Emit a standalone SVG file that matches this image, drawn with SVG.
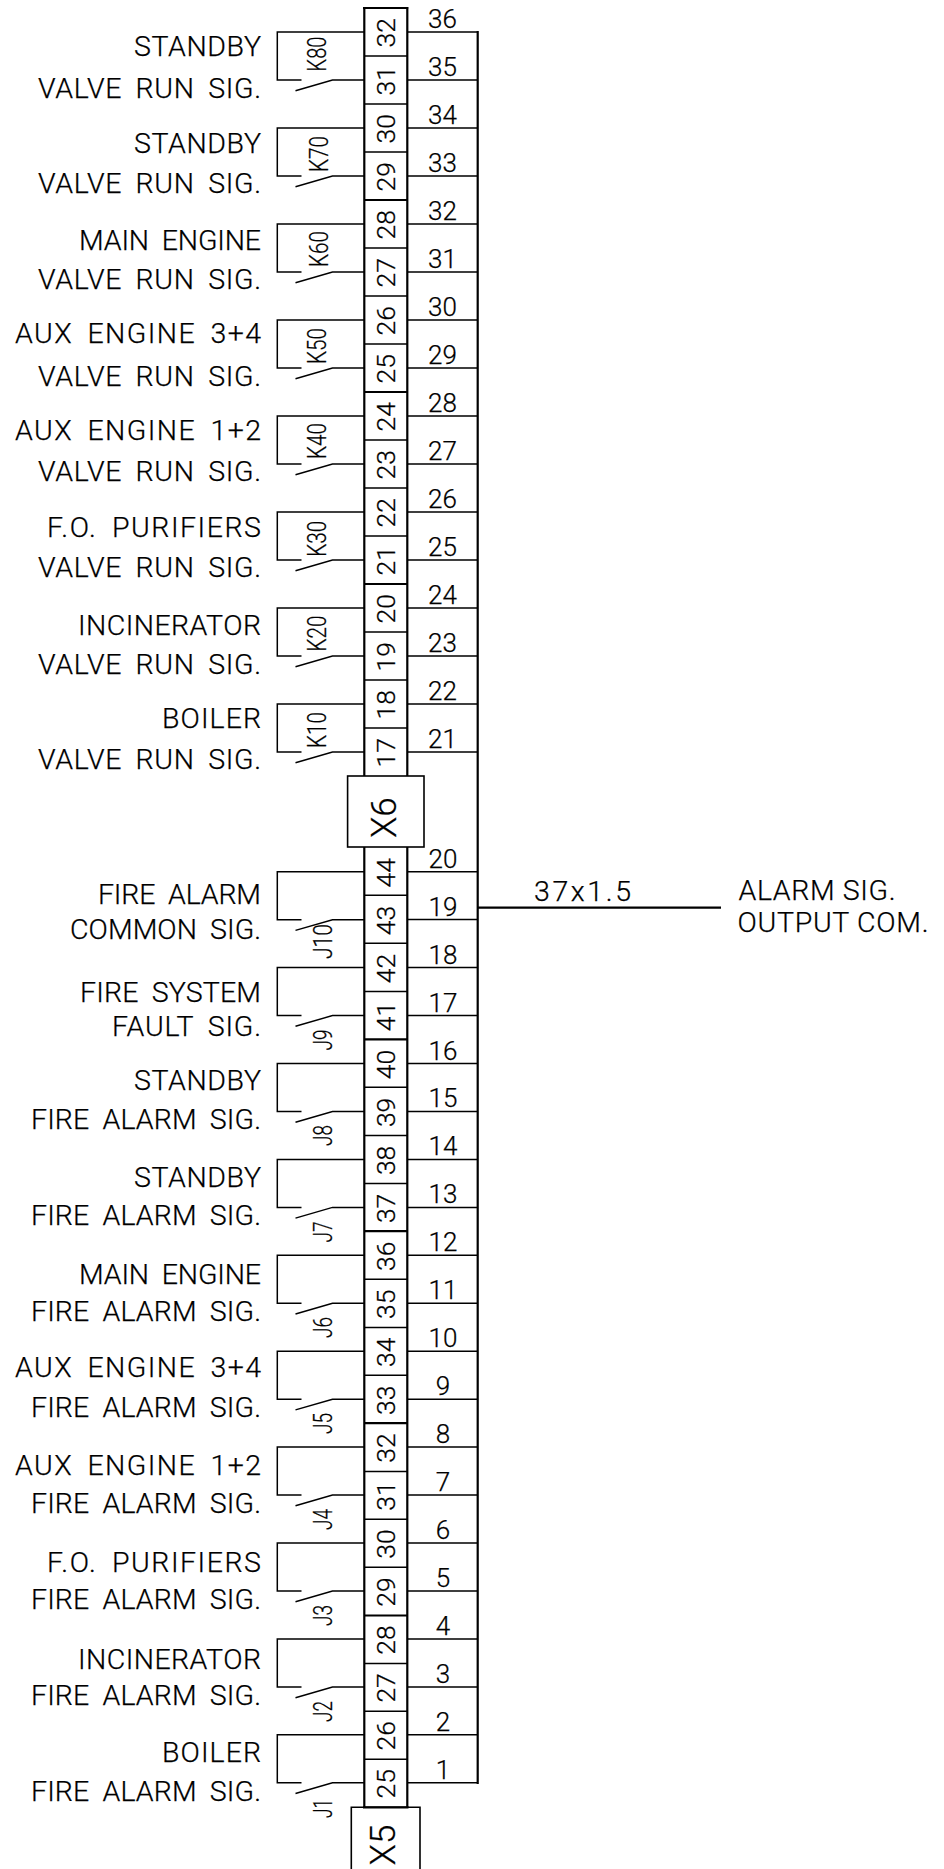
<svg xmlns="http://www.w3.org/2000/svg" xmlns:xlink="http://www.w3.org/1999/xlink" width="944" height="1869" viewBox="0 0 944 1869">
<style>
text{font-family:Roboto,"Liberation Sans",sans-serif;font-weight:300;fill:#000;stroke:#000;stroke-width:.25}
.l{font-size:28.5px;text-anchor:end;word-spacing:6px}
.t{font-size:26.5px;text-anchor:middle}
.n{font-size:26px;text-anchor:middle}
.r{font-size:25.5px;text-anchor:middle}
.x{font-size:35px;text-anchor:middle}
.o{font-size:28.5px}
.w,.c{fill:none;stroke:#000;stroke-width:1.5}
.b{fill:none;stroke:#000;stroke-width:2.2}
.box{fill:#fff;stroke:#000;stroke-width:1.6}
</style>
<defs>
<path id="contact" class="c" d="M364.5 0H277.3V48H301.5M295.5 58.7L332.5 48H364.5"/>
</defs>
<rect width="944" height="1869" fill="#fff"/>
<g id="connectors">
<path class="w" d="M407 32H478M407 80H478M407 128H478M407 176H478M407 224H478M407 272H478M407 320H478M407 368H478M407 416H478M407 464H478M407 512H478M407 560H478M407 608H478M407 656H478M407 704H478M407 752H478M407 871.7H478M407 919.6H478M407 967.6H478M407 1015.5H478M407 1063.5H478M407 1111.4H478M407 1159.4H478M407 1207.4H478M407 1255.3H478M407 1303.3H478M407 1351.2H478M407 1399.2H478M407 1447.1H478M407 1495H478M407 1543H478M407 1591H478M407 1639H478M407 1686.9H478M407 1734.8H478M407 1782.8H478"/>
<path class="b" d="M477.7 31V1784M478 907.7H721"/>
</g>
<g id="wire-numbers">
<text class="n" x="442.5" y="28">36</text><text class="n" x="442.5" y="76">35</text><text class="n" x="442.5" y="124">34</text><text class="n" x="442.5" y="172">33</text><text class="n" x="442.5" y="220">32</text><text class="n" x="442.5" y="268">31</text><text class="n" x="442.5" y="316">30</text><text class="n" x="442.5" y="364">29</text><text class="n" x="442.5" y="412">28</text><text class="n" x="442.5" y="460">27</text><text class="n" x="442.5" y="508">26</text><text class="n" x="442.5" y="556">25</text><text class="n" x="442.5" y="604">24</text><text class="n" x="442.5" y="652">23</text><text class="n" x="442.5" y="700">22</text><text class="n" x="442.5" y="748">21</text>
<text class="n" x="443" y="867.7">20</text><text class="n" x="443" y="915.6">19</text><text class="n" x="443" y="963.6">18</text><text class="n" x="443" y="1011.5">17</text><text class="n" x="443" y="1059.5">16</text><text class="n" x="443" y="1107.4">15</text><text class="n" x="443" y="1155.4">14</text><text class="n" x="443" y="1203.4">13</text><text class="n" x="443" y="1251.3">12</text><text class="n" x="443" y="1299.3">11</text><text class="n" x="443" y="1347.2">10</text><text class="n" x="443" y="1395.2">9</text><text class="n" x="443" y="1443.1">8</text><text class="n" x="443" y="1491">7</text><text class="n" x="443" y="1539">6</text><text class="n" x="443" y="1587">5</text><text class="n" x="443" y="1635">4</text><text class="n" x="443" y="1682.9">3</text><text class="n" x="443" y="1730.8">2</text><text class="n" x="443" y="1778.8">1</text>
</g>
<g id="strip-X6">
<path class="b" d="M364.3 8V776M407.3 8V776M363 8H408.5"/>
<path class="w" d="M364 56H408M364 104H408M364 152H408M364 248H408M364 296H408M364 344H408M364 440H408M364 488H408M364 536H408M364 632H408M364 680H408M364 728H408"/>
<path class="b" d="M364 200H408M364 392H408M364 584H408"/>
<text class="t" transform="translate(395 32.7) rotate(-90)">32</text><text class="t" transform="translate(395 80.7) rotate(-90)">31</text><text class="t" transform="translate(395 128.7) rotate(-90)">30</text><text class="t" transform="translate(395 176.7) rotate(-90)">29</text><text class="t" transform="translate(395 224.7) rotate(-90)">28</text><text class="t" transform="translate(395 272.7) rotate(-90)">27</text><text class="t" transform="translate(395 320.7) rotate(-90)">26</text><text class="t" transform="translate(395 368.7) rotate(-90)">25</text><text class="t" transform="translate(395 416.7) rotate(-90)">24</text><text class="t" transform="translate(395 464.7) rotate(-90)">23</text><text class="t" transform="translate(395 512.7) rotate(-90)">22</text><text class="t" transform="translate(395 560.7) rotate(-90)">21</text><text class="t" transform="translate(395 608.7) rotate(-90)">20</text><text class="t" transform="translate(395 656.7) rotate(-90)">19</text><text class="t" transform="translate(395 704.7) rotate(-90)">18</text><text class="t" transform="translate(395 752.7) rotate(-90)">17</text>
<rect class="box" x="347.6" y="776" width="76.4" height="71"/>
<text class="x" transform="translate(395.5 817.7) rotate(-90)">X6</text>
</g>
<g id="strip-X5">
<path class="b" d="M364.3 847V1807M407.3 847V1807"/>
<path class="w" d="M364 895.3H408M364 943.3H408M364 991.5H408M364 1087.3H408M364 1135.5H408M364 1183.5H408M364 1279.3H408M364 1327.5H408M364 1375.3H408M364 1471.5H408M364 1519.3H408M364 1567.3H408M364 1663.5H408M364 1711.3H408M364 1759.3H408"/>
<path class="b" d="M364 1039.3H408M364 1231.2H408M364 1423.2H408M364 1615.5H408"/>
<text class="t" transform="translate(395 872.7) rotate(-90)">44</text><text class="t" transform="translate(395 920.6) rotate(-90)">43</text><text class="t" transform="translate(395 968.6) rotate(-90)">42</text><text class="t" transform="translate(395 1016.5) rotate(-90)">41</text><text class="t" transform="translate(395 1064.5) rotate(-90)">40</text><text class="t" transform="translate(395 1112.4) rotate(-90)">39</text><text class="t" transform="translate(395 1160.4) rotate(-90)">38</text><text class="t" transform="translate(395 1208.4) rotate(-90)">37</text><text class="t" transform="translate(395 1256.3) rotate(-90)">36</text><text class="t" transform="translate(395 1304.3) rotate(-90)">35</text><text class="t" transform="translate(395 1352.2) rotate(-90)">34</text><text class="t" transform="translate(395 1400.2) rotate(-90)">33</text><text class="t" transform="translate(395 1448.1) rotate(-90)">32</text><text class="t" transform="translate(395 1496) rotate(-90)">31</text><text class="t" transform="translate(395 1544) rotate(-90)">30</text><text class="t" transform="translate(395 1592) rotate(-90)">29</text><text class="t" transform="translate(395 1640) rotate(-90)">28</text><text class="t" transform="translate(395 1687.9) rotate(-90)">27</text><text class="t" transform="translate(395 1735.8) rotate(-90)">26</text><text class="t" transform="translate(395 1783.8) rotate(-90)">25</text>
<path class="box" d="M351.3 1875V1807.3H420V1875"/>
<path class="b" d="M363 1807.3H408.5"/>
<text class="x" transform="translate(395 1845) rotate(-90)">X5</text>
</g>
<g id="K80"><use xlink:href="#contact" href="#contact" y="32"/><text class="r" transform="translate(326 54) rotate(-90)" textLength="35" lengthAdjust="spacingAndGlyphs">K80</text><text class="l" x="261" y="55.7" textLength="127">STANDBY</text><text class="l" x="261" y="97.7" textLength="223">VALVE RUN SIG.</text></g>
<g id="K70"><use xlink:href="#contact" href="#contact" y="128"/><text class="r" transform="translate(328.3 154) rotate(-90)" textLength="36" lengthAdjust="spacingAndGlyphs">K70</text><text class="l" x="261" y="152.7" textLength="127">STANDBY</text><text class="l" x="261" y="193.3" textLength="223">VALVE RUN SIG.</text></g>
<g id="K60"><use xlink:href="#contact" href="#contact" y="224"/><text class="r" transform="translate(328.3 249) rotate(-90)" textLength="36" lengthAdjust="spacingAndGlyphs">K60</text><text class="l" x="261" y="250" textLength="182">MAIN ENGINE</text><text class="l" x="261" y="289.3" textLength="223">VALVE RUN SIG.</text></g>
<g id="K50"><use xlink:href="#contact" href="#contact" y="320"/><text class="r" transform="translate(326 346) rotate(-90)" textLength="36" lengthAdjust="spacingAndGlyphs">K50</text><text class="l" x="261" y="343" textLength="246">AUX ENGINE 3+4</text><text class="l" x="261" y="386" textLength="223">VALVE RUN SIG.</text></g>
<g id="K40"><use xlink:href="#contact" href="#contact" y="416"/><text class="r" transform="translate(326 441) rotate(-90)" textLength="36" lengthAdjust="spacingAndGlyphs">K40</text><text class="l" x="261" y="440" textLength="246">AUX ENGINE 1+2</text><text class="l" x="261" y="481.3" textLength="223">VALVE RUN SIG.</text></g>
<g id="K30"><use xlink:href="#contact" href="#contact" y="512"/><text class="r" transform="translate(326 538.7) rotate(-90)" textLength="36" lengthAdjust="spacingAndGlyphs">K30</text><text class="l" x="261" y="537" textLength="214">F.O. PURIFIERS</text><text class="l" x="261" y="577.3" textLength="223">VALVE RUN SIG.</text></g>
<g id="K20"><use xlink:href="#contact" href="#contact" y="608"/><text class="r" transform="translate(326 633.5) rotate(-90)" textLength="36" lengthAdjust="spacingAndGlyphs">K20</text><text class="l" x="261" y="634.7" textLength="183">INCINERATOR</text><text class="l" x="261" y="673.7" textLength="223">VALVE RUN SIG.</text></g>
<g id="K10"><use xlink:href="#contact" href="#contact" y="704"/><text class="r" transform="translate(326 730) rotate(-90)" textLength="36" lengthAdjust="spacingAndGlyphs">K10</text><text class="l" x="261" y="727.7" textLength="99">BOILER</text><text class="l" x="261" y="769.3" textLength="223">VALVE RUN SIG.</text></g>
<g id="J10"><use xlink:href="#contact" href="#contact" y="871.7"/><text class="r" transform="translate(331.5 941.5) rotate(-90)" textLength="35" lengthAdjust="spacingAndGlyphs">J10</text><text class="l" x="261" y="904.3" textLength="163">FIRE ALARM</text><text class="l" x="261" y="939" textLength="191">COMMON SIG.</text></g>
<g id="J9"><use xlink:href="#contact" href="#contact" y="967.6"/><text class="r" transform="translate(331.5 1040) rotate(-90)" textLength="21" lengthAdjust="spacingAndGlyphs">J9</text><text class="l" x="261" y="1001.7" textLength="181">FIRE SYSTEM</text><text class="l" x="261" y="1036.3" textLength="149">FAULT SIG.</text></g>
<g id="J8"><use xlink:href="#contact" href="#contact" y="1063.5"/><text class="r" transform="translate(331.5 1135.5) rotate(-90)" textLength="21" lengthAdjust="spacingAndGlyphs">J8</text><text class="l" x="261" y="1090" textLength="127">STANDBY</text><text class="l" x="261" y="1128.7" textLength="230">FIRE ALARM SIG.</text></g>
<g id="J7"><use xlink:href="#contact" href="#contact" y="1159.4"/><text class="r" transform="translate(331.5 1232) rotate(-90)" textLength="21" lengthAdjust="spacingAndGlyphs">J7</text><text class="l" x="261" y="1186.7" textLength="127">STANDBY</text><text class="l" x="261" y="1224.7" textLength="230">FIRE ALARM SIG.</text></g>
<g id="J6"><use xlink:href="#contact" href="#contact" y="1255.3"/><text class="r" transform="translate(331.5 1327.5) rotate(-90)" textLength="21" lengthAdjust="spacingAndGlyphs">J6</text><text class="l" x="261" y="1284" textLength="182">MAIN ENGINE</text><text class="l" x="261" y="1320.7" textLength="230">FIRE ALARM SIG.</text></g>
<g id="J5"><use xlink:href="#contact" href="#contact" y="1351.2"/><text class="r" transform="translate(331.5 1423.5) rotate(-90)" textLength="21" lengthAdjust="spacingAndGlyphs">J5</text><text class="l" x="261" y="1377.3" textLength="246">AUX ENGINE 3+4</text><text class="l" x="261" y="1417" textLength="230">FIRE ALARM SIG.</text></g>
<g id="J4"><use xlink:href="#contact" href="#contact" y="1447.1"/><text class="r" transform="translate(331.5 1519.5) rotate(-90)" textLength="21" lengthAdjust="spacingAndGlyphs">J4</text><text class="l" x="261" y="1474.7" textLength="246">AUX ENGINE 1+2</text><text class="l" x="261" y="1512.7" textLength="230">FIRE ALARM SIG.</text></g>
<g id="J3"><use xlink:href="#contact" href="#contact" y="1543"/><text class="r" transform="translate(331.5 1615.5) rotate(-90)" textLength="21" lengthAdjust="spacingAndGlyphs">J3</text><text class="l" x="261" y="1571.7" textLength="214">F.O. PURIFIERS</text><text class="l" x="261" y="1608.7" textLength="230">FIRE ALARM SIG.</text></g>
<g id="J2"><use xlink:href="#contact" href="#contact" y="1639"/><text class="r" transform="translate(331.5 1711.5) rotate(-90)" textLength="21" lengthAdjust="spacingAndGlyphs">J2</text><text class="l" x="261" y="1669" textLength="183">INCINERATOR</text><text class="l" x="261" y="1704.7" textLength="230">FIRE ALARM SIG.</text></g>
<g id="J1"><use xlink:href="#contact" href="#contact" y="1734.8"/><text class="r" transform="translate(331.5 1808.5) rotate(-90)" textLength="19" lengthAdjust="spacingAndGlyphs">J1</text><text class="l" x="261" y="1762.3" textLength="99">BOILER</text><text class="l" x="261" y="1800.7" textLength="230">FIRE ALARM SIG.</text></g>
<g id="output">
<text class="o" x="534" y="900.7" textLength="97">37x1.5</text>
<text class="o" x="738.5" y="900" textLength="157">ALARM SIG.</text>
<text class="o" x="737.5" y="932.3" textLength="191">OUTPUT COM.</text>
</g>
</svg>
